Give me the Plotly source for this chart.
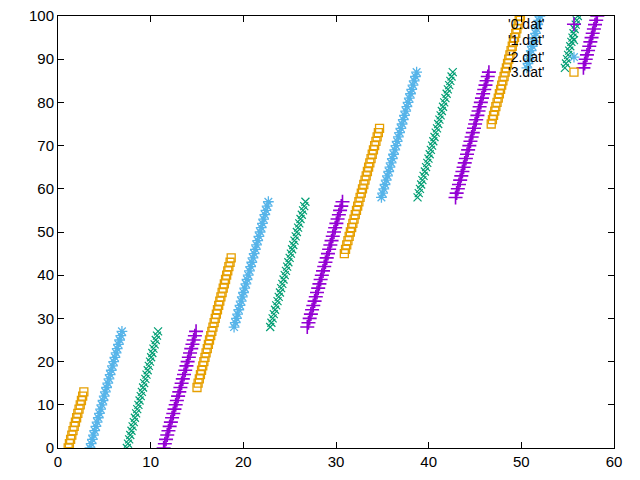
import plotly.graph_objects as go

# y index shared by every series (0..100)
Y = list(range(101))

# '0.dat' (purple +)
x0 = [11.40,11.53,11.66,11.79,11.92,12.05,12.18,12.31,12.44,12.57,12.70,12.83,12.96,13.09,13.21,13.34,13.47,13.60,13.73,13.86,13.99,14.12,14.25,14.38,14.51,14.64,14.77,14.90,
      26.90,27.03,27.16,27.29,27.42,27.55,27.69,27.82,27.95,28.08,28.21,28.34,28.47,28.60,28.73,28.86,29.00,29.13,29.26,29.39,29.52,29.65,29.78,29.91,30.04,30.17,30.31,30.44,30.57,30.70,
      42.90,43.02,43.15,43.27,43.40,43.52,43.64,43.77,43.89,44.02,44.14,44.26,44.39,44.51,44.64,44.76,44.89,45.01,45.13,45.26,45.38,45.50,45.63,45.75,45.88,46.00,46.13,46.25,46.38,46.50,
      56.70,56.83,56.95,57.08,57.20,57.33,57.45,57.58,57.70,57.83,57.95,58.08,58.20]

# '1.dat' (green x)
x1 = [7.43,7.55,7.68,7.80,7.93,8.05,8.18,8.30,8.43,8.55,8.68,8.80,8.93,9.05,9.18,9.30,9.43,9.55,9.68,9.80,9.93,10.05,10.18,10.30,10.43,10.55,10.68,10.80,
      22.90,23.03,23.16,23.29,23.42,23.55,23.69,23.82,23.95,24.08,24.21,24.34,24.47,24.60,24.73,24.86,25.00,25.13,25.26,25.39,25.52,25.65,25.78,25.91,26.04,26.17,26.31,26.44,26.57,26.70,
      38.80,38.93,39.06,39.19,39.32,39.45,39.59,39.72,39.85,39.98,40.11,40.24,40.37,40.50,40.63,40.76,40.90,41.03,41.16,41.29,41.42,41.55,41.68,41.81,41.94,42.07,42.21,42.34,42.47,42.60,
      54.70,54.82,54.93,55.05,55.17,55.28,55.40,55.52,55.63,55.75,55.87,55.98,56.10]

# '2.dat' (blue asterisk)
x2 = [3.45,3.58,3.71,3.83,3.96,4.09,4.22,4.35,4.47,4.60,4.73,4.86,4.99,5.11,5.24,5.37,5.50,5.63,5.75,5.88,6.01,6.14,6.27,6.39,6.52,6.65,6.78,6.90,
      19.00,19.13,19.26,19.38,19.51,19.64,19.77,19.89,20.02,20.15,20.28,20.40,20.53,20.66,20.79,20.91,21.04,21.17,21.30,21.42,21.55,21.68,21.81,21.93,22.06,22.19,22.32,22.44,22.57,22.70,
      34.90,35.03,35.16,35.29,35.42,35.55,35.69,35.82,35.95,36.08,36.21,36.34,36.47,36.60,36.73,36.86,37.00,37.13,37.26,37.39,37.52,37.65,37.78,37.91,38.04,38.17,38.31,38.44,38.57,38.70,
      50.60,50.72,50.83,50.95,51.07,51.18,51.30,51.42,51.53,51.65,51.77,51.88,52.00]

# '3.dat' (orange squares)
x3 = [1.10,1.23,1.36,1.49,1.62,1.75,1.88,2.01,2.14,2.27,2.40,2.53,2.66,2.79,
      15.00,15.12,15.25,15.37,15.49,15.62,15.74,15.86,15.98,16.11,16.23,16.35,16.48,16.60,16.72,16.85,16.97,17.09,17.21,17.34,17.46,17.58,17.71,17.83,17.95,18.08,18.20,18.32,18.44,18.57,18.69,
      30.90,31.03,31.16,31.29,31.42,31.55,31.69,31.82,31.95,32.08,32.21,32.34,32.47,32.60,32.73,32.86,33.00,33.13,33.26,33.39,33.52,33.65,33.78,33.91,34.04,34.17,34.31,34.44,34.57,34.70,
      46.75,46.88,47.00,47.13,47.25,47.38,47.51,47.63,47.76,47.88,48.01,48.14,48.26,48.39,48.51,48.64,48.77,48.89,49.02,49.14,49.27,49.40,49.52,49.65,49.77,49.90]

names = ["'0.dat'", "'1.dat'", "'2.dat'", "'3.dat'"]
colors = ["#9400d3", "#009e73", "#56b4e9", "#e69f00"]
symbols = ["cross-thin-open", "x-thin-open", "asterisk-open", "square-open"]
sizes = [10, 8, 9, 8]
widths = [1.6, 1.2, 1.3, 1.3]
xs = [x0, x1, x2, x3]

FONT = "Liberation Sans, Arial, sans-serif"

fig = go.Figure()
for xv, nm, c, s, sz, w in zip(xs, names, colors, symbols, sizes, widths):
    fig.add_trace(go.Scatter(x=xv, y=Y, mode="markers", name=nm, showlegend=False,
                             marker=dict(symbol=s, size=sz, color=c,
                                         line=dict(color=c, width=w))))

# gnuplot-style key: text right-aligned, sample to its right
key_y = [0.981, 0.944, 0.905, 0.870]
for nm, c, s, sz, w, ky in zip(names, colors, symbols, sizes, widths, key_y):
    fig.add_trace(go.Scatter(x=[0.928], y=[ky], mode="markers", xaxis="x2", yaxis="y2",
                             showlegend=False, hoverinfo="skip",
                             marker=dict(symbol=s, size=sz, color=c,
                                         line=dict(color=c, width=w))))
    fig.add_annotation(x=0.876, y=ky, xref="paper", yref="paper", text=nm,
                       showarrow=False, xanchor="right", yanchor="middle",
                       borderpad=0,
                       font=dict(family=FONT, size=14, color="black"))

axis_common = dict(showline=True, linecolor="black", linewidth=1, mirror="ticks",
                   ticks="inside", ticklen=6, tickcolor="black", showgrid=False,
                   zeroline=False, automargin=False, ticklabeloverflow="allow",
                   tickfont=dict(family=FONT, size=15, color="black"))

fig.update_layout(
    width=640, height=480,
    margin=dict(l=58, r=26, t=16, b=32),
    paper_bgcolor="white", plot_bgcolor="white",
    xaxis=dict(range=[0, 60], dtick=10, **axis_common),
    yaxis=dict(range=[0, 100], dtick=10, **axis_common),
    xaxis2=dict(range=[0, 1], overlaying="x", visible=False),
    yaxis2=dict(range=[0, 1], overlaying="y", visible=False),
)

# remove the browser's default 8px body margin so the figure fills the window
fig.write_html("out.html", config={"displayModeBar": False},
               post_script="document.body.style.margin='0px';")
